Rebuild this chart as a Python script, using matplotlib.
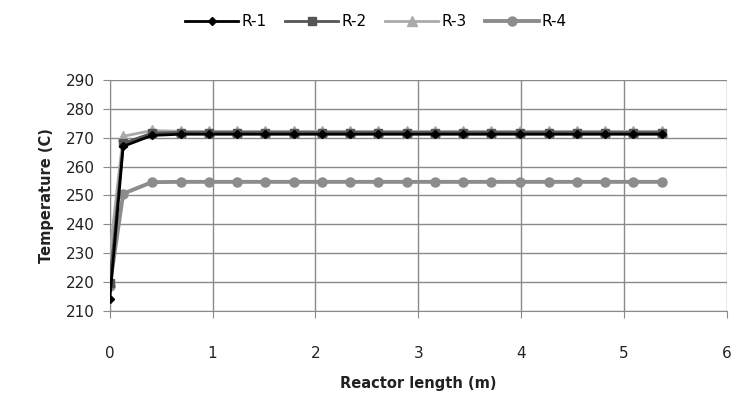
import matplotlib
matplotlib.use("Agg")
import matplotlib.pyplot as plt

# reactor length (m)
length = [0, 0.13, 0.41, 0.69, 0.96, 1.24, 1.51, 1.79, 2.06, 2.34, 2.61,
          2.89, 3.16, 3.44, 3.71, 3.99, 4.27, 4.54, 4.82, 5.09, 5.37]

# temperature (C)
r1 = [214.2, 267.0, 270.8] + [271.2] * 18
r2 = [219.8, 268.0, 271.6] + [271.8] * 18
r3 = [229.8, 270.5, 272.5] + [272.2] * 18
r4 = [218.7, 250.6, 254.6] + [254.7] * 18

series = ["R-1", "R-2", "R-3", "R-4"]

fig = plt.figure(figsize=(7.37, 3.94), dpi=100)
ax = fig.add_axes([0.149, 0.211, 0.837, 0.586])

ax.plot(length, r1, color="#000000", lw=2, marker="D", ms=4.5, label=series[0], zorder=5)
ax.plot(length, r2, color="#555555", lw=2, marker="s", ms=5.5, label=series[1], zorder=4)
ax.plot(length, r3, color="#aaaaaa", lw=2, marker="^", ms=6.5, label=series[2], zorder=3)
ax.plot(length, r4, color="#8c8c8c", lw=2.8, marker="o", ms=6.5, label=series[3], zorder=2)

ax.set_xlim(0, 6)
ax.set_ylim(210, 290)
ax.set_xticks(range(0, 7))
ax.set_yticks(range(210, 291, 10))
ax.grid(True, color="#8a8a8a", lw=1)
ax.set_axisbelow(True)
for s in ["top", "right"]:
    ax.spines[s].set_visible(False)
for s in ["left", "bottom"]:
    ax.spines[s].set_color("#8a8a8a")
ax.tick_params(colors="#8a8a8a", labelcolor="#222222", labelsize=11, length=5)
ax.tick_params(axis="x", pad=20)
ax.tick_params(axis="y", pad=6)

ax.set_xlabel("Reactor length (m)", fontsize=10.5, fontweight="bold", color="#222222", labelpad=11)
ax.set_ylabel("Temperature (C)", fontsize=10.5, fontweight="bold", color="#222222", labelpad=8)

fig.legend(loc="center", bbox_to_anchor=(0.51, 0.945), ncol=4, frameon=False,
           fontsize=11, handlelength=3.5, columnspacing=1.2, handletextpad=0.2)

plt.savefig("out.png", dpi=100)
